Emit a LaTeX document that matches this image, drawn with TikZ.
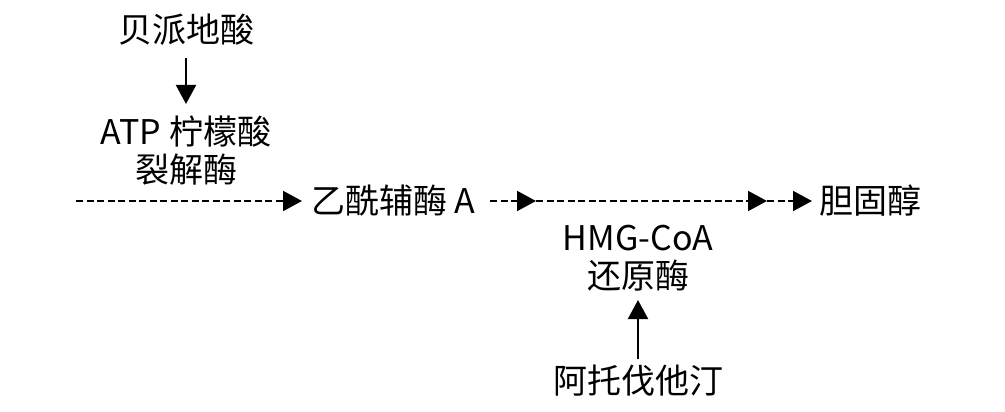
\documentclass[tikz,border=0pt]{standalone}
\usepackage{fontspec}
\setmainfont{Noto Sans CJK SC}
\usetikzlibrary{arrows.meta}
\begin{document}
\begin{tikzpicture}[x=1pt,y=1pt,
  lbl/.style={inner sep=0pt,align=center,font=\fontsize{34}{38}\selectfont},
  solidarr/.style={line width=2pt,-{Triangle[length=19pt,width=20pt]}},
  dasharr/.style={line width=2pt,dash pattern=on 7pt off 3.5pt,-{Triangle[length=19pt,width=20pt]}}]
\useasboundingbox (0,0) rectangle (1005,-412);
\node[lbl] (bpd) at (186,-30) {贝派地酸};
\node[lbl] (acl) at (186,-151) {ATP 柠檬酸\\裂解酶};
\node[lbl,anchor=west] (acoa) at (311,-201) {乙酰辅酶 A};
\node[lbl,anchor=west] (chol) at (819,-201) {胆固醇};
\node[lbl] (hmg) at (638,-258) {HMG-CoA\\还原酶};
\node[lbl] (ator) at (638,-381) {阿托伐他汀};
\coordinate (start) at (76,-201);
\coordinate (t1) at (302,-201);
\coordinate (s2) at (490,-201);
\coordinate (m1) at (536,-201);
\coordinate (m2) at (767,-201);
\coordinate (t4) at (812,-201);
\coordinate (d1) at (186,-58);
\coordinate (d2) at (186,-104);
\coordinate (u1) at (638,-359);
\coordinate (u2) at (638,-300);
\draw[solidarr] (d1) -- (d2);
\draw[solidarr] (u1) -- (u2);
\draw[dasharr] (start) -- (t1);
\draw[dasharr] (s2) -- (m1);
\draw[dasharr] (m1) -- (m2);
\draw[dasharr] (m2) -- (t4);
\end{tikzpicture}
\end{document}
